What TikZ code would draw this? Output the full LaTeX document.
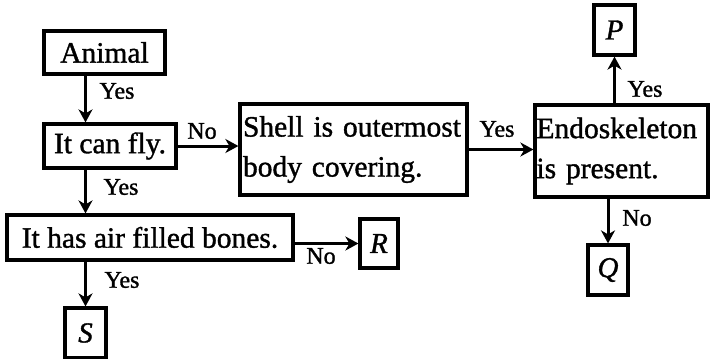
\documentclass[tikz,border=0pt]{standalone}
\usepackage{fontspec}
\setmainfont{Liberation Serif}
\newfontfamily\heavyfont{Liberation Serif}[FakeBold=1.2]
\usetikzlibrary{arrows.meta}
\tikzset{
  box/.style={draw=black, line width=3.2pt, fill=white, inner sep=0pt, font=\heavyfont\fontsize{29.5}{40}\selectfont},
  tbox/.style={box, align=left, text width=#1, inner xsep=3pt},
  lbox/.style={box, font=\heavyfont\fontsize{29}{36}\selectfont\itshape},
  arr/.style={line width=3pt, -{Stealth[length=13pt, width=14pt, inset=4pt]}},
  lbl/.style={inner sep=0pt, font=\heavyfont\fontsize{24}{28}\selectfont}
}
\begin{document}
\begin{tikzpicture}[x=1pt, y=1pt]
\useasboundingbox (0,0) rectangle (710,-359);
% boxes
\node[box, minimum width=121, minimum height=43] (animal) at (104.5,-52.5) {Animal};
\node[box, minimum width=132, minimum height=44] (fly) at (110,-146) {It can fly.};
\node[box, minimum width=286, minimum height=45] (bones) at (150,-237.5) {It has air filled bones.};
\node[tbox=221pt, minimum width=227, minimum height=91] (shell) at (353.5,-149.5) {Shell is outermost\\body covering.};
\node[tbox=170pt, minimum width=173, minimum height=92, inner xsep=1.5pt] (endo) at (621.5,-151) {Endoskeleton\\is present.};
\node[lbox, minimum width=41, minimum height=50] (P) at (614.5,-30) {P};
\node[lbox, minimum width=40, minimum height=50] (Q) at (608,-270) {Q};
\node[lbox, minimum width=38, minimum height=49] (R) at (379,-243.5) {R};
\node[lbox, minimum width=41, minimum height=50] (S) at (85.5,-333) {S};
% connectors
\draw[arr] (animal.south -| S.north) -- (fly.north -| S.north);
\draw[arr] (fly.south -| S.north) -- (bones.north -| S.north);
\draw[arr] (bones.south -| S.north) -- (S.north);
\draw[arr] (fly.east) -- (fly.east -| shell.west);
\draw[arr] (shell.east) -- (shell.east -| endo.west);
\draw[arr] (endo.north -| P.south) -- (P.south);
\draw[arr] (endo.south -| Q.north) -- (Q.north);
\draw[arr] (bones.east |- R.west) -- (R.west);
% labels
\node[lbl] (l1) at (117,-91) {Yes};
\node[lbl] (l2) at (202,-131) {No};
\node[lbl] (l3) at (121,-187) {Yes};
\node[lbl] (l4) at (497,-129) {Yes};
\node[lbl] (l5) at (645,-89) {Yes};
\node[lbl] (l6) at (637,-218) {No};
\node[lbl] (l7) at (321,-256) {No};
\node[lbl] (l8) at (122,-280) {Yes};
\end{tikzpicture}
\end{document}
